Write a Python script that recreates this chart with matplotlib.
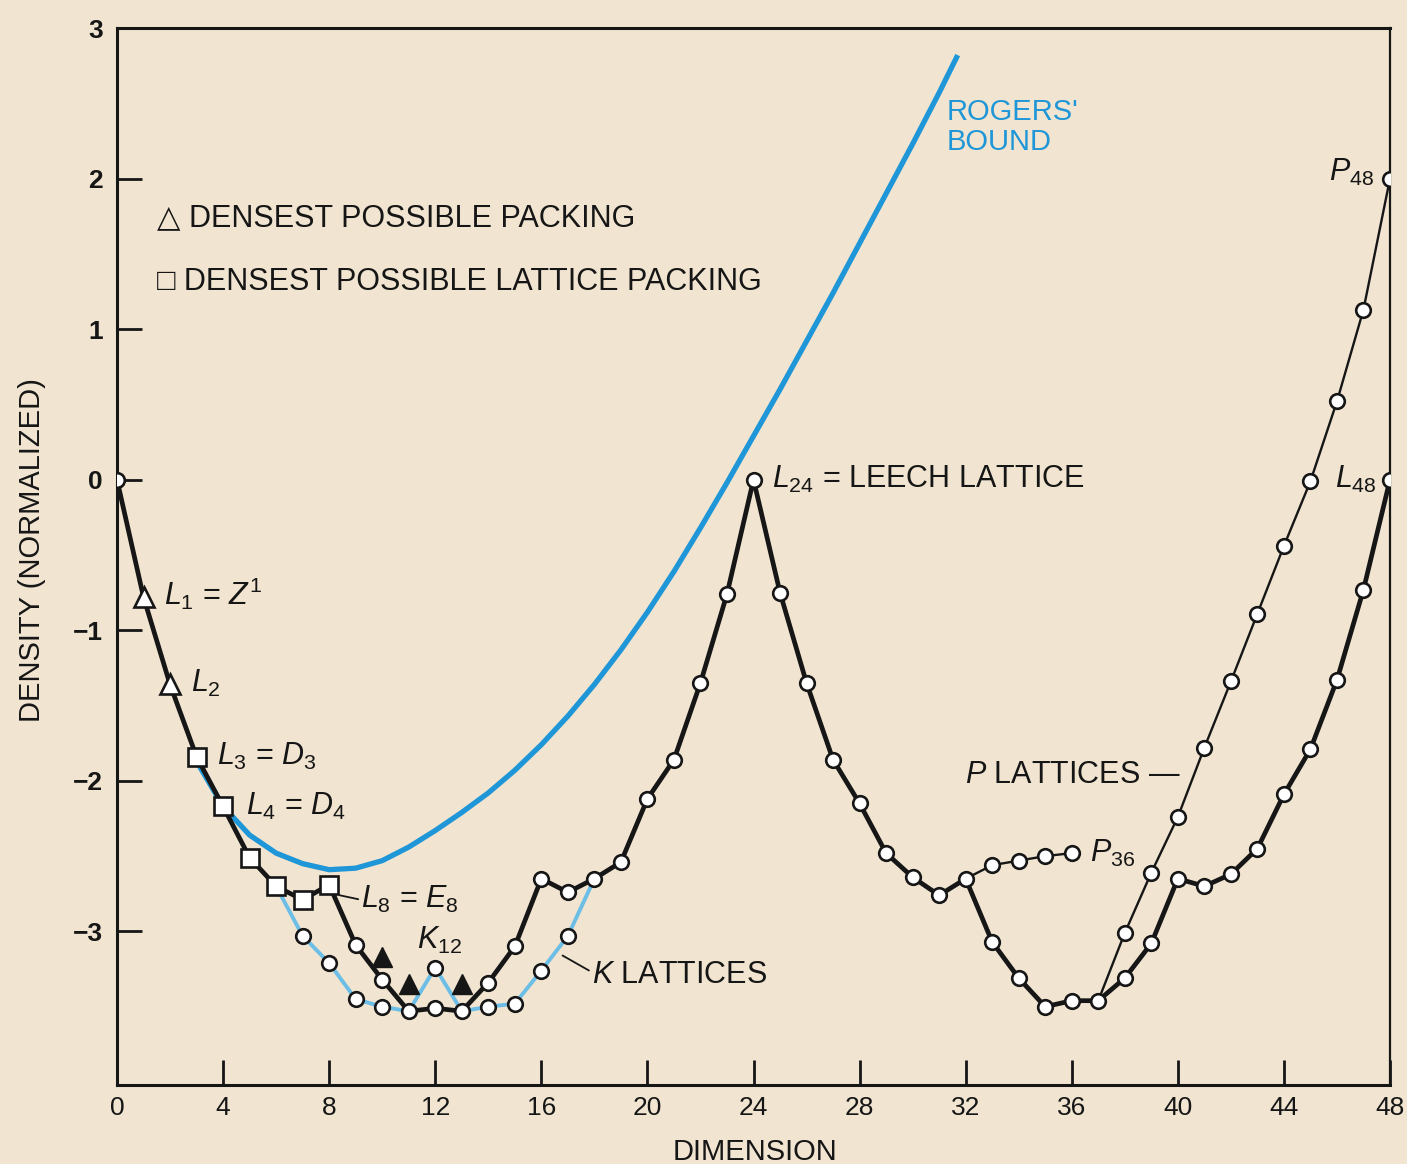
import matplotlib
matplotlib.use("Agg")
import matplotlib.pyplot as plt

plt.rcParams['font.family'] = ['Liberation Sans', 'DejaVu Sans']
plt.rcParams['mathtext.fontset'] = 'custom'
plt.rcParams['mathtext.rm'] = 'Liberation Sans'
plt.rcParams['mathtext.it'] = 'Liberation Sans:italic'

# densest known packings, dims 0..48 (thick black curve)
dims = list(range(0, 49))
density = [0.0, -0.78, -1.36, -1.84, -2.17, -2.51, -2.70, -2.79, -2.69, -3.09,
           -3.32, -3.53, -3.51, -3.53, -3.34, -3.10, -2.65, -2.74, -2.65, -2.54,
           -2.12, -1.86, -1.35, -0.76, 0.0, -0.75, -1.35, -1.86, -2.15, -2.48,
           -2.64, -2.76, -2.65, -3.07, -3.31, -3.50, -3.46, -3.46, -3.31, -3.08,
           -2.65, -2.70, -2.62, -2.45, -2.09, -1.79, -1.33, -0.73, 0.0]

tri_dims = [1, 2]            # densest possible packing (open triangles)
sq_dims = [3, 4, 5, 6, 7, 8]  # densest possible lattice packing (squares)

# nonlattice packings (filled triangles)
nonlat_dims = [10, 11, 13]
nonlat_vals = [-3.17, -3.35, -3.35]

# K lattices (light blue)
k_dims = [6, 7, 8, 9, 10, 11, 12, 13, 14, 15, 16, 17, 18]
k_vals = [-2.70, -3.03, -3.21, -3.45, -3.50, -3.53, -3.24, -3.53, -3.50, -3.48,
          -3.26, -3.03, -2.65]

# P lattices
p36_dims = [32, 33, 34, 35, 36]
p36_vals = [-2.65, -2.56, -2.53, -2.50, -2.48]
p48_dims = [37, 38, 39, 40, 41, 42, 43, 44, 45, 46, 47, 48]
p48_vals = [-3.46, -3.01, -2.61, -2.24, -1.78, -1.34, -0.89, -0.44, -0.01, 0.52,
            1.13, 2.0]

# Rogers' bound
rog_dims = [3, 4, 5, 6, 7, 8, 9, 10, 11, 12, 13, 14, 15, 16, 17, 18, 19, 20, 21,
            22, 23, 24, 25, 26, 27, 28, 29, 30, 31, 31.7]
rog_vals = [-1.87, -2.17, -2.36, -2.48, -2.55, -2.59, -2.58, -2.53, -2.44, -2.33,
            -2.21, -2.08, -1.93, -1.76, -1.57, -1.36, -1.13, -0.88, -0.61, -0.32,
            -0.02, 0.29, 0.60, 0.92, 1.24, 1.57, 1.90, 2.23, 2.57, 2.82]

paper = '#f1e5d1'
ink = '#161616'
rog_col = '#1e96d7'
k_col = '#6dbee6'

fig = plt.figure(figsize=(14.07, 11.64), dpi=100, facecolor=paper)
ax = fig.add_axes([117/1407, 1-1085/1164, 1273/1407, 1057/1164], facecolor=paper)

ax.plot(rog_dims, rog_vals, color=rog_col, lw=3.8, solid_capstyle='butt', zorder=2)
ax.plot(k_dims, k_vals, color=k_col, lw=2.8, zorder=2)
ax.plot(p36_dims, p36_vals, color=ink, lw=1.7, zorder=3)
ax.plot(p48_dims, p48_vals, color=ink, lw=1.7, zorder=3)
ax.plot(dims, density, color=ink, lw=3.4, zorder=4)

mk = dict(markerfacecolor='white', markeredgecolor=ink, markeredgewidth=1.9,
          linestyle='none', zorder=5)
circ = [d for d in dims if d not in tri_dims + sq_dims]
ax.plot(circ, [density[d] for d in circ], marker='o', markersize=10.5, **mk)
ax.plot(tri_dims, [density[d] for d in tri_dims], marker='^', markersize=14, **mk)
ax.plot(sq_dims, [density[d] for d in sq_dims], marker='s', markersize=13, **mk)
k_only = [d for d in k_dims if d not in (6, 11, 13, 18)]
ax.plot(k_only, [k_vals[k_dims.index(d)] for d in k_only], marker='o', markersize=10.5, **mk)
ax.plot(p36_dims[1:], p36_vals[1:], marker='o', markersize=10.5, **mk)
ax.plot(p48_dims[1:], p48_vals[1:], marker='o', markersize=10.5, **mk)
ax.plot(nonlat_dims, nonlat_vals, marker='^', markersize=14, color=ink,
        linestyle='none', zorder=5)

ax.set_xlim(0, 48)
ax.set_ylim(-4.02, 3)
ax.set_xticks(range(0, 49, 4))
ax.set_yticks(range(-3, 4))
ax.tick_params(direction='in', length=18, width=2.0, colors=ink, labelsize=19)
ax.tick_params(axis='x', pad=8)
ax.tick_params(axis='y', pad=10)
for lab in ax.get_yticklabels():
    lab.set_fontweight('bold')
for s in ax.spines.values():
    s.set_linewidth(2.2)
    s.set_color(ink)
ax.spines['right'].set_linewidth(1.6)

ax.set_xlabel('DIMENSION', fontsize=21, color=ink)
ax.xaxis.set_label_coords(0.501, -0.050)
ax.set_ylabel('DENSITY (NORMALIZED)', fontsize=21, color=ink)
ax.yaxis.set_label_coords(-0.056, 0.506)

fs = 22
t = dict(fontsize=fs, color=ink, va='center', zorder=6)
ax.text(1.5, 1.74, '\u25b3 DENSEST POSSIBLE PACKING', ha='left', **t)
ax.text(1.5, 1.31, '\u25a1 DENSEST POSSIBLE LATTICE PACKING', ha='left', **t)
ax.text(1.77, -0.76, r'$L_1$ = $Z^1$', ha='left', **t)
ax.text(2.79, -1.35, r'$L_2$', ha='left', **t)
ax.text(3.77, -1.84, r'$L_3$ = $D_3$', ha='left', **t)
ax.text(4.87, -2.17, r'$L_4$ = $D_4$', ha='left', **t)
ax.annotate(r'$L_8$ = $E_8$', xy=(8.4, -2.76), xytext=(9.2, -2.79), ha='left',
            arrowprops=dict(arrowstyle='-', color=ink, lw=1.3, relpos=(0, 0.5),
                            shrinkA=0, shrinkB=0), **t)
ax.text(11.3, -3.06, r'$K_{12}$', ha='left', **t)
ax.annotate('$K$ LATTICES', xy=(16.8, -3.16), xytext=(17.9, -3.29), ha='left',
            arrowprops=dict(arrowstyle='-', color=ink, lw=1.3, relpos=(0, 0.6),
                            shrinkA=0, shrinkB=0), **t)
ax.text(24.7, 0.0, r'$L_{24}$ = LEECH LATTICE', ha='left', **t)
ax.text(31.96, -1.96, '$P$ LATTICES \u2014', ha='left', **t)
ax.text(36.7, -2.48, r'$P_{36}$', ha='left', **t)
ax.text(47.4, 2.04, r'$P_{48}$', ha='right', **t)
ax.text(47.5, 0.0, r'$L_{48}$', ha='right', **t)
ax.text(31.3, 2.34, "ROGERS'\nBOUND", ha='left', fontsize=21, color=rog_col,
        va='center', linespacing=1.1, zorder=6)

fig.savefig('out.png', dpi=100, facecolor=paper)
